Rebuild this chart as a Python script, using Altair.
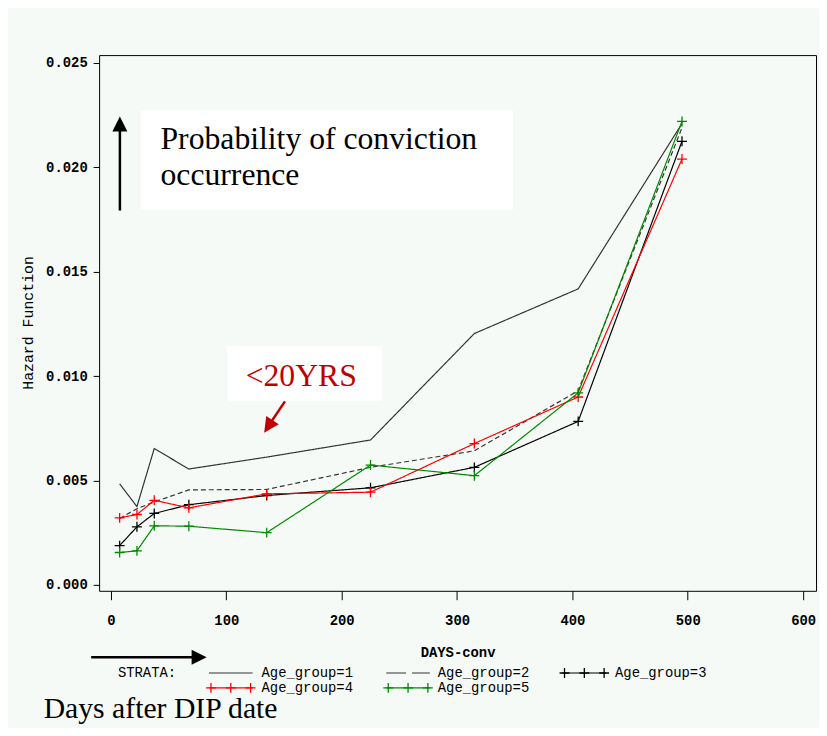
import altair as alt
import pandas as pd

# ---------------- data ----------------
days = [7.5, 22.5, 37.5, 67.5, 135, 225, 315, 405, 495]
groups = ["Age_group=1", "Age_group=2", "Age_group=3", "Age_group=4", "Age_group=5"]
hazard_g1 = [0.00484, 0.00375, 0.00653, 0.00555, 0.00612, 0.00694, 0.01204, 0.01418, 0.02210]
hazard_g2 = [0.00318, 0.00365, 0.00397, 0.00455, 0.00457, 0.00563, 0.00642, 0.00930, 0.02190]
hazard_g3 = [0.00188, 0.00278, 0.00342, 0.00384, 0.00428, 0.00465, 0.00563, 0.00783, 0.02125]
hazard_g4 = [0.00321, 0.00337, 0.00405, 0.00369, 0.00436, 0.00444, 0.00677, 0.00900, 0.02040]
hazard_g5 = [0.00155, 0.00163, 0.00283, 0.00281, 0.00250, 0.00574, 0.00523, 0.00920, 0.02220]
x_ticks = [0, 100, 200, 300, 400, 500, 600]
y_ticks = [0.0, 0.005, 0.010, 0.015, 0.020, 0.025]
marked_groups = ["Age_group=3", "Age_group=4", "Age_group=5"]

# ---------------- styles ----------------
colors = ["#333333", "#333333", "#000000", "#ff0000", "#008a00"]
dashes = [[1, 0], [5, 3], [1, 0], [1, 0], [1, 0]]
BG = "#f5faf6"
MONO = "Liberation Mono"
SERIF = "Liberation Serif"
PLUS = "M-1,0H1M0,-1V1"
HEAD = "M0,-1L1,1L-1,1Z"

series = [hazard_g1, hazard_g2, hazard_g3, hazard_g4, hazard_g5]
rows = []
for g, vals in zip(groups, series):
    for d, v in zip(days, vals):
        rows.append({"days": d, "hazard": v, "group": g})
df = pd.DataFrame(rows)

W, H = 724, 541

xs = alt.Scale(domain=[-10.3, 611.2], nice=False, zero=False)
ys = alt.Scale(domain=[-0.000285, 0.02538], nice=False, zero=False)
cs = alt.Scale(domain=groups, range=colors)
ds = alt.Scale(domain=groups, range=dashes)

x_enc = alt.X("days:Q", scale=xs, title="DAYS-conv",
              axis=alt.Axis(values=x_ticks, grid=False, domain=False, tickSize=9,
                            labelPadding=14, format="d", titleX=362, titleY=66,
                            titleBaseline="alphabetic", titleAlign="center"))
y_enc = alt.Y("hazard:Q", scale=ys, title="Hazard Function",
              axis=alt.Axis(values=y_ticks, grid=False, domain=False, tickSize=6,
                            labelPadding=6, format=".3f", titleX=-64, titleY=270,
                            titleAngle=270, titleBaseline="bottom", titleAlign="center",
                            titleFontWeight="normal", titleFontSize=15))

lines = alt.Chart(df).mark_line(strokeWidth=1.2).encode(
    x=x_enc, y=y_enc,
    color=alt.Color("group:N", scale=cs, legend=None),
    strokeDash=alt.StrokeDash("group:N", scale=ds, legend=None),
    detail="group:N",
)

pts = alt.Chart(df[df["group"].isin(marked_groups)]).mark_point(
    shape=PLUS, filled=False, size=100, strokeWidth=1.3, opacity=1
).encode(
    x=alt.X("days:Q", scale=xs), y=alt.Y("hazard:Q", scale=ys),
    color=alt.Color("group:N", scale=cs, legend=None),
)

one = pd.DataFrame({"k": [0]})


def box(x1, x2, y1, y2):
    return alt.Chart(one).mark_rect(color="white").encode(
        x=alt.value(x1), x2=alt.value(x2), y=alt.value(y1), y2=alt.value(y2))


def text(s, x, y, font, size, color="black", weight="normal", baseline="alphabetic"):
    return alt.Chart(one).mark_text(text=s, align="left", baseline=baseline, font=font,
                                    fontSize=size, color=color, fontWeight=weight).encode(
        x=alt.value(x), y=alt.value(y))


def seg(x1, y1, x2, y2, color="black", width=2.5, dash=None):
    kw = dict(color=color, strokeWidth=width)
    if dash is not None:
        kw["strokeDash"] = dash
    return alt.Chart(one).mark_rule(**kw).encode(
        x=alt.value(x1), y=alt.value(y1), x2=alt.value(x2), y2=alt.value(y2))


def head(x, y, angle, color="black"):
    return alt.Chart(one).mark_point(shape=HEAD, filled=True, size=230, color=color,
                                     opacity=1, strokeWidth=0, angle=angle).encode(
        x=alt.value(x), y=alt.value(y))


ann = [
    box(42, 418, 56, 156),
    text("Probability of conviction", 62, 95, SERIF, 32),
    text("occurrence", 62, 131, SERIF, 32),
    seg(21, 71, 21, 157),
    head(21, 69.5, 0),
    box(129, 286, 294, 349),
    text("<20YRS", 148, 334, SERIF, 32, color="#c00000"),
    seg(187.7, 349.7, 172, 373, color="#c00000"),
    head(170.9, 375.0, 213.6, color="#c00000"),
    seg(-8, 608, 101, 608),
    head(101, 608, 90),
    text("Days after DIP date", -56, 669, SERIF, 30),
    text("STRATA:", 19, 624, MONO, 14, baseline="middle"),
]

# legend (layout only)
leg_x0 = [111, 290, 468, 111, 290]
leg_row_y = [624, 624, 624, 639, 639]
leg_text_x = [164, 342, 521, 164, 342]
leg_len = 44
for g, c, x0, yy, tx in zip(groups, colors, leg_x0, leg_row_y, leg_text_x):
    dash = [20, 6] if g == "Age_group=2" else None
    ann.append(seg(x0, yy, x0 + leg_len, yy, color=c, width=1.2, dash=dash))
    if g in marked_groups:
        pdf = pd.DataFrame({"px": [x0 + 2, x0 + 22, x0 + 42], "py": [yy] * 3})
        ann.append(alt.Chart(pdf).mark_point(shape=PLUS, filled=False, size=100,
                                              strokeWidth=1.3, color=c, opacity=1).encode(
            x=alt.X("px:Q", scale=None), y=alt.Y("py:Q", scale=None)))
    ann.append(text(g, tx, yy, MONO, 14, baseline="middle"))

chart = alt.layer(lines, pts, *ann).properties(
    width=W, height=H,
    autosize=alt.AutoSizeParams(type="none"),
    padding={"left": 92, "top": 44, "right": 3, "bottom": 135},
    background=BG,
).configure_view(stroke="black", strokeWidth=1).configure_axis(
    labelFont=MONO, labelFontSize=14, labelFontWeight="bold", labelColor="black",
    tickColor="black", titleFont=MONO, titleFontSize=14, titleColor="black",
    titleFontWeight="bold",
)

chart.save("out.html", embed_options={"renderer": "svg", "actions": False})
